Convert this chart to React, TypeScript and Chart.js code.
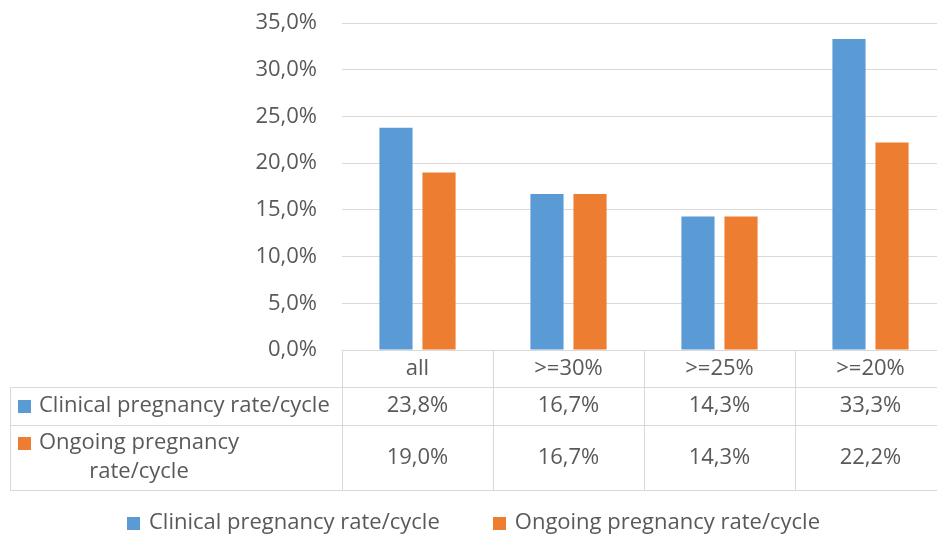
import React, { useEffect, useRef } from "react";
import { Chart, registerables } from "chart.js";

Chart.register(...registerables);

const categories = ["all", ">=30%", ">=25%", ">=20%"];
const clinicalRate = [23.8, 16.7, 14.3, 33.3];
const ongoingRate = [19.0, 16.7, 14.3, 22.2];
const seriesNames = ["Clinical pregnancy rate/cycle", "Ongoing pregnancy rate/cycle"];
const tableRowLabels = [["Clinical pregnancy rate/cycle"], ["Ongoing pregnancy", "rate/cycle"]];
const seriesColors = ["#5B9BD5", "#ED7D31"];
const yMax = 35;
const yStep = 5;

const FONT = '"Open Sans", "Noto Sans", sans-serif';
const TEXT = "#595959";
const GRID = "#d9d9d9";

const fmt = (v: number) => v.toFixed(1).replace(".", ",") + "%";

const tablePlugin = {
  id: "dataTable",
  afterDraw(chart: any) {
    const ctx = chart.ctx as CanvasRenderingContext2D;
    const area = chart.chartArea;
    const xs = chart.scales.x;
    const n = categories.length;
    const colW = n > 1 ? xs.getPixelForValue(1) - xs.getPixelForValue(0) : area.right - area.left;
    const bounds: number[] = [];
    for (let i = 0; i <= n; i++) bounds.push(xs.getPixelForValue(0) - colW / 2 + i * colW);

    const tableLeft = 10;
    const top = area.bottom;
    const r1 = top + 37;
    const r2 = r1 + 38;
    const bottom = r2 + 65;

    ctx.save();
    ctx.strokeStyle = GRID;
    ctx.lineWidth = 1;
    const hline = (y: number, x0: number, x1: number) => {
      ctx.beginPath();
      ctx.moveTo(x0, Math.round(y) + 0.5);
      ctx.lineTo(x1, Math.round(y) + 0.5);
      ctx.stroke();
    };
    const vline = (x: number, y0: number, y1: number) => {
      ctx.beginPath();
      ctx.moveTo(Math.round(x) + 0.5, y0);
      ctx.lineTo(Math.round(x) + 0.5, y1);
      ctx.stroke();
    };
    hline(r1, tableLeft, bounds[n]);
    hline(r2, tableLeft, bounds[n]);
    hline(bottom, tableLeft, bounds[n]);
    vline(tableLeft, r1, bottom);
    for (let i = 0; i <= n; i++) vline(bounds[i], top, bottom);

    ctx.font = `22px ${FONT}`;
    ctx.fillStyle = TEXT;
    ctx.textBaseline = "middle";
    ctx.textAlign = "center";
    const rowCenters = [(r1 + r2) / 2, (r2 + bottom) / 2];
    const series = [clinicalRate, ongoingRate];
    for (let i = 0; i < n; i++) {
      const cx = xs.getPixelForValue(i);
      ctx.fillText(categories[i], cx, (top + r1) / 2);
      for (let s = 0; s < series.length; s++) {
        ctx.fillText(fmt(series[s][i]), cx, rowCenters[s]);
      }
    }

    // row labels
    const box = 13;
    const textX = 39;
    for (let s = 0; s < tableRowLabels.length; s++) {
      const lines = tableRowLabels[s];
      const lh = 29;
      const firstY = rowCenters[s] - ((lines.length - 1) * lh) / 2;
      ctx.fillStyle = seriesColors[s];
      ctx.fillRect(18, Math.round(firstY - box / 2), box, box);
      ctx.fillStyle = TEXT;
      const maxW = Math.max(...lines.map((l) => ctx.measureText(l).width));
      ctx.textAlign = "center";
      lines.forEach((l, k) => {
        ctx.fillText(l, textX + maxW / 2, firstY + k * lh);
      });
    }

    // legend
    const legendY = 523;
    const gapBoxText = 9;
    const gapItems = 53;
    const widths = seriesNames.map((t) => box + gapBoxText + ctx.measureText(t).width);
    const total = widths.reduce((a, b) => a + b, 0) + gapItems * (widths.length - 1);
    let lx = chart.width / 2 - total / 2;
    ctx.textAlign = "left";
    seriesNames.forEach((t, s) => {
      ctx.fillStyle = seriesColors[s];
      ctx.fillRect(Math.round(lx), Math.round(legendY - box / 2), box, box);
      ctx.fillStyle = TEXT;
      ctx.fillText(t, lx + box + gapBoxText, legendY);
      lx += widths[s] + gapItems;
    });
    ctx.restore();
  },
};

export default function App() {
  const ref = useRef<HTMLCanvasElement | null>(null);
  useEffect(() => {
    document.body.style.margin = "0";
    const canvas = ref.current!;
    const chart = new Chart(canvas, {
      type: "bar",
      data: {
        labels: categories,
        datasets: [
          {
            label: seriesNames[0],
            data: clinicalRate,
            backgroundColor: seriesColors[0],
            barPercentage: 0.77,
            categoryPercentage: 0.57,
          },
          {
            label: seriesNames[1],
            data: ongoingRate,
            backgroundColor: seriesColors[1],
            barPercentage: 0.77,
            categoryPercentage: 0.57,
          },
        ],
      },
      options: {
        responsive: false,
        animation: false,
        devicePixelRatio: 1,
        layout: { padding: { top: 23, right: 1, left: 0, bottom: 0 } },
        plugins: { legend: { display: false }, tooltip: { enabled: false } },
        scales: {
          x: {
            grid: { display: false },
            border: { display: false },
            ticks: { display: false },
            afterFit: (s: any) => {
              s.height = 187;
            },
          },
          y: {
            min: 0,
            max: yMax,
            ticks: {
              stepSize: yStep,
              padding: 25,
              color: TEXT,
              font: { family: FONT, size: 22 },
              callback: (v: any) => fmt(Number(v)),
            },
            grid: { color: GRID, lineWidth: 1, drawTicks: false },
            border: { display: false },
            afterFit: (s: any) => {
              s.width = 342;
              s.paddingTop = 0;
              s.paddingBottom = 0;
            },
          },
        },
      },
      plugins: [tablePlugin],
    });
    return () => chart.destroy();
  }, []);
  return (
    <div style={{ width: 937, height: 537, overflow: "hidden", background: "#fff" }}>
      <canvas ref={ref} width={947} height={537} style={{ display: "block" }} />
    </div>
  );
}
